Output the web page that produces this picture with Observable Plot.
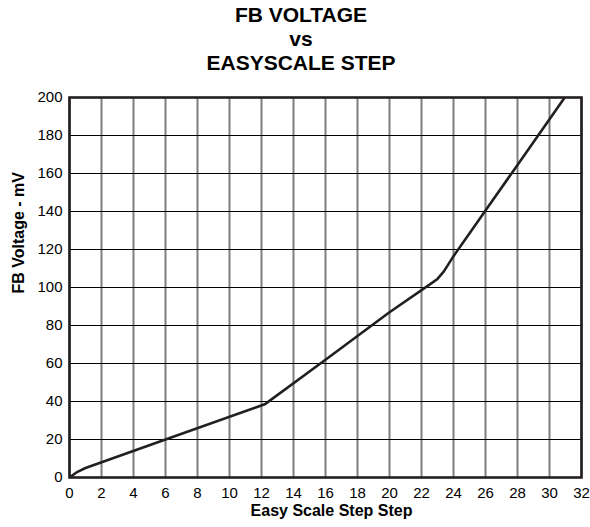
<!DOCTYPE html>
<html><head><meta charset="utf-8">
<script src="https://cdn.jsdelivr.net/npm/d3@7"></script>
<script src="https://cdn.jsdelivr.net/npm/@observablehq/plot@0.6"></script>
<style>
body{margin:0;background:#fff;font-family:"Liberation Sans",Arial,sans-serif;}
#title{width:590px;box-sizing:border-box;padding-left:12px;padding-top:3px;text-align:center;font-weight:bold;font-size:21px;line-height:24px;color:#000;}
#title div{height:24px;}
#chart{margin-top:1px;}
</style></head><body>
<div id="title"><div>FB VOLTAGE</div><div>vs</div><div>EASYSCALE STEP</div></div>
<div id="chart"></div>
<script>
const titleLines = ["FB VOLTAGE", "vs", "EASYSCALE STEP"];
const xLabel = "Easy Scale Step Step";
const yLabel = "FB Voltage - mV";
const xTicks = [0, 2, 4, 6, 8, 10, 12, 14, 16, 18, 20, 22, 24, 26, 28, 30, 32];
const yTicks = [0, 20, 40, 60, 80, 100, 120, 140, 160, 180, 200];
const steps     = [0, 0.5, 1, 6, 12.2, 16, 20, 22.5, 23.0, 23.4, 24, 26, 28, 30, 30.95];
const fbVoltage = [0, 3, 5, 20, 38.5, 62, 87, 101.5, 104.5, 108.5, 116.5, 140.5, 164.5, 188.5, 200];

const data = steps.map((s, i) => ({step: s, mv: fbVoltage[i]}));

const chart = Plot.plot({
  width: 590,
  height: 451,
  marginTop: 21,
  marginBottom: 50,
  marginLeft: 69,
  marginRight: 9,
  style: {fontFamily: "'Liberation Sans', Arial, sans-serif", fontSize: "15px", color: "#000", background: "#fff"},
  x: {domain: [0, 32], ticks: xTicks, label: null},
  y: {domain: [0, 200], ticks: yTicks, label: null},
  marks: [
    Plot.gridX(xTicks, {stroke: "#7f7f7f", strokeWidth: 2, strokeOpacity: 1}),
    Plot.gridY(yTicks, {stroke: "#000", strokeWidth: 1.2, strokeOpacity: 1}),
    Plot.line(data, {x: "step", y: "mv", stroke: "#231f20", strokeWidth: 2.6, clip: true}),
    Plot.frame({stroke: "#231f20", strokeWidth: 2.6}),
    Plot.axisX(xTicks, {tickSize: 0, tickPadding: 10, label: null, fill: "#000"}),
    Plot.axisY(yTicks, {tickSize: 0, tickPadding: 7, label: null, fill: "#000"}),
    Plot.text([xLabel], {frameAnchor: "bottom", dy: 38, dx: 6, fontWeight: "bold", fontSize: 16, fill: "#000"}),
    Plot.text([yLabel], {frameAnchor: "left", rotate: -90, dx: -51, dy: 6, fontWeight: "bold", fontSize: 16, fill: "#000"})
  ]
});
document.getElementById("chart").appendChild(chart);
</script>
</body></html>
